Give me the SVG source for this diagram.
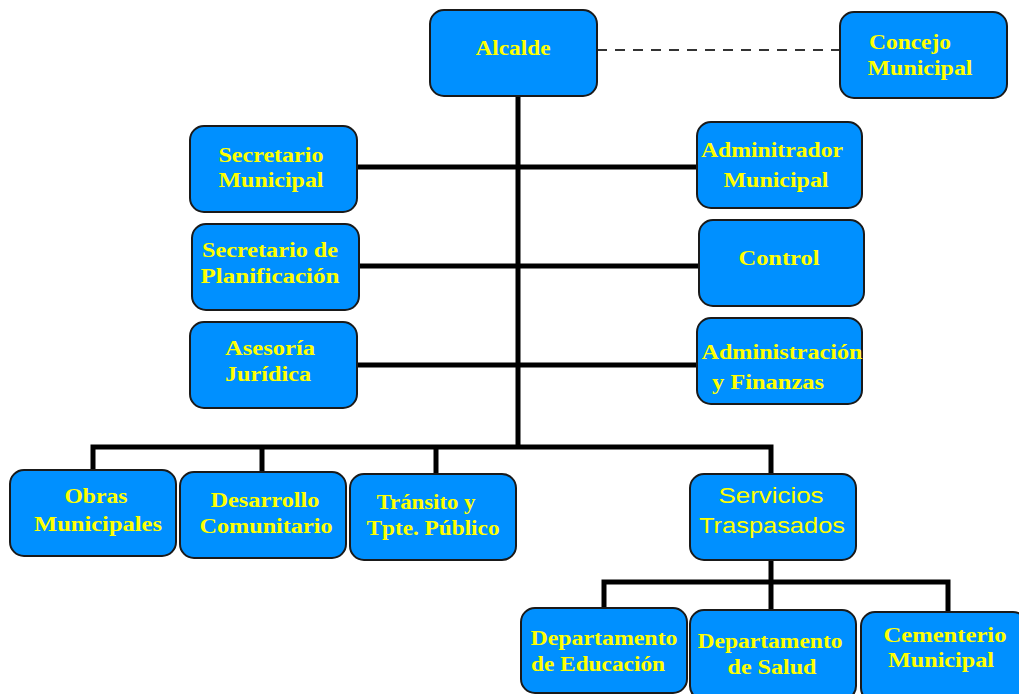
<svg xmlns="http://www.w3.org/2000/svg" width="1019" height="694" viewBox="0 0 1019 694">
<style>
.box{fill:#0090ff;stroke:#1a1a1a;stroke-width:2}
.t{font-family:"Liberation Serif","Times New Roman",serif;font-weight:bold;font-size:20px;fill:#ffff00;text-anchor:middle}
.s{font-family:"Liberation Sans",Arial,sans-serif;font-size:22px;fill:#ffff00;text-anchor:middle}
.ln{stroke:#000;stroke-width:5;fill:none}
.dash{stroke:#333;stroke-width:2;stroke-dasharray:10 8;fill:none}
</style>
<rect width="1019" height="694" fill="#fff"/>
<g id="connectors">
<line class="dash" x1="597" y1="50" x2="840" y2="50"/>
<line class="ln" x1="518" y1="96" x2="518" y2="447"/>
<line class="ln" x1="357" y1="167" x2="697" y2="167"/>
<line class="ln" x1="359" y1="266" x2="699" y2="266"/>
<line class="ln" x1="357" y1="365" x2="697" y2="365"/>
<polyline class="ln" points="93,470 93,447 771,447 771,474"/>
<line class="ln" x1="262" y1="447" x2="262" y2="472"/>
<line class="ln" x1="436" y1="447" x2="436" y2="474"/>
<line class="ln" x1="771" y1="560" x2="771" y2="610"/>
<polyline class="ln" points="604,608 604,582 948,582 948,612"/>
</g>
<g id="alcalde"><rect class="box" x="430" y="10" width="167" height="86" rx="14"/><text class="t" x="513" y="55" textLength="75" lengthAdjust="spacingAndGlyphs">Alcalde</text></g>
<g id="concejo"><rect class="box" x="840" y="12" width="167" height="86" rx="14"/><text class="t" x="910" y="49" textLength="82" lengthAdjust="spacingAndGlyphs">Concejo</text><text class="t" x="920" y="75" textLength="105" lengthAdjust="spacingAndGlyphs">Municipal</text></g>
<g id="sec-municipal"><rect class="box" x="190" y="126" width="167" height="86" rx="14"/><text class="t" x="271" y="162" textLength="105" lengthAdjust="spacingAndGlyphs">Secretario</text><text class="t" x="271" y="187" textLength="105" lengthAdjust="spacingAndGlyphs">Municipal</text></g>
<g id="adm-municipal"><rect class="box" x="697" y="122" width="165" height="86" rx="14"/><text class="t" x="772" y="157" textLength="142" lengthAdjust="spacingAndGlyphs">Adminitrador</text><text class="t" x="776" y="187" textLength="105" lengthAdjust="spacingAndGlyphs">Municipal</text></g>
<g id="sec-planificacion"><rect class="box" x="192" y="224" width="167" height="86" rx="14"/><text class="t" x="270" y="257" textLength="136" lengthAdjust="spacingAndGlyphs">Secretario de</text><text class="t" x="270" y="283" textLength="139" lengthAdjust="spacingAndGlyphs">Planificación</text></g>
<g id="control"><rect class="box" x="699" y="220" width="165" height="86" rx="14"/><text class="t" x="779" y="265" textLength="81" lengthAdjust="spacingAndGlyphs">Control</text></g>
<g id="asesoria"><rect class="box" x="190" y="322" width="167" height="86" rx="14"/><text class="t" x="270" y="355" textLength="90" lengthAdjust="spacingAndGlyphs">Asesoría</text><text class="t" x="268" y="381" textLength="86" lengthAdjust="spacingAndGlyphs">Jurídica</text></g>
<g id="adm-finanzas"><rect class="box" x="697" y="318" width="165" height="86" rx="14"/><text class="t" x="782" y="359" textLength="161" lengthAdjust="spacingAndGlyphs">Administración</text><text class="t" x="768" y="389" textLength="112" lengthAdjust="spacingAndGlyphs">y Finanzas</text></g>
<g id="obras"><rect class="box" x="10" y="470" width="166" height="86" rx="14"/><text class="t" x="96" y="503" textLength="63" lengthAdjust="spacingAndGlyphs">Obras</text><text class="t" x="98" y="531" textLength="128" lengthAdjust="spacingAndGlyphs">Municipales</text></g>
<g id="desarrollo"><rect class="box" x="180" y="472" width="166" height="86" rx="14"/><text class="t" x="265" y="507" textLength="109" lengthAdjust="spacingAndGlyphs">Desarrollo</text><text class="t" x="266" y="533" textLength="133" lengthAdjust="spacingAndGlyphs">Comunitario</text></g>
<g id="transito"><rect class="box" x="350" y="474" width="166" height="86" rx="14"/><text class="t" x="426" y="509" textLength="99" lengthAdjust="spacingAndGlyphs">Tránsito y</text><text class="t" x="433" y="535" textLength="133" lengthAdjust="spacingAndGlyphs">Tpte. Público</text></g>
<g id="servicios"><rect class="box" x="690" y="474" width="166" height="86" rx="14"/><text class="s" x="771" y="503" textLength="105" lengthAdjust="spacingAndGlyphs">Servicios</text><text class="s" x="772" y="533" textLength="146" lengthAdjust="spacingAndGlyphs">Traspasados</text></g>
<g id="educacion"><rect class="box" x="521" y="608" width="166" height="85" rx="14"/><text class="t" x="604" y="645" textLength="147" lengthAdjust="spacingAndGlyphs">Departamento</text><text class="t" x="598" y="671" textLength="134" lengthAdjust="spacingAndGlyphs">de Educación</text></g>
<g id="salud"><rect class="box" x="690" y="610" width="166" height="90" rx="14"/><text class="t" x="770" y="648" textLength="145" lengthAdjust="spacingAndGlyphs">Departamento</text><text class="t" x="772" y="674" textLength="89" lengthAdjust="spacingAndGlyphs">de Salud</text></g>
<g id="cementerio"><rect class="box" x="861" y="612" width="166" height="90" rx="14"/><text class="t" x="945" y="642" textLength="123" lengthAdjust="spacingAndGlyphs">Cementerio</text><text class="t" x="941" y="667" textLength="106" lengthAdjust="spacingAndGlyphs">Municipal</text></g>
</svg>
